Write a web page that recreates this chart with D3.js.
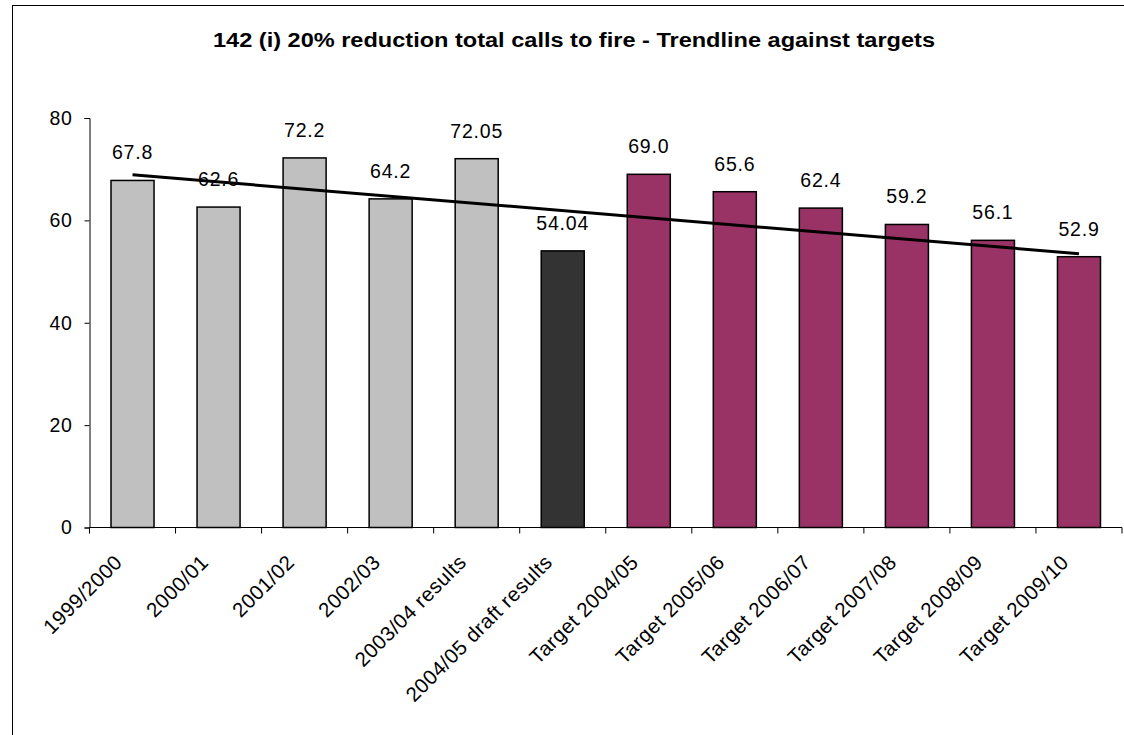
<!DOCTYPE html>
<html>
  <head>
    <meta charset="UTF-8" />
    <style>
      body {
        margin: 0;
        background: #ffffff;
      }
      text {
        font-family: "Liberation Sans", Arial, sans-serif;
        fill: #000000;
      }
      .bar {
        stroke: #000000;
        stroke-width: 1.5px;
      }
      .trend {
        stroke: #000000;
        stroke-width: 3px;
        fill: none;
      }
    </style>
    <script src="https://d3js.org/d3.v7.min.js"></script>
  </head>
  <body>
    <svg width="1124" height="735"></svg>
    <script>
      var categories = [
        "1999/2000",
        "2000/01",
        "2001/02",
        "2002/03",
        "2003/04 results",
        "2004/05 draft results",
        "Target 2004/05",
        "Target 2005/06",
        "Target 2006/07",
        "Target 2007/08",
        "Target 2008/09",
        "Target 2009/10",
      ];
      var values = [67.8, 62.6, 72.2, 64.2, 72.05, 54.04, 69.0, 65.6, 62.4, 59.2, 56.1, 52.9];
      var valueLabels = ["67.8", "62.6", "72.2", "64.2", "72.05", "54.04", "69.0", "65.6", "62.4", "59.2", "56.1", "52.9"];
      var groups = ["actual", "actual", "actual", "actual", "actual", "draft", "target", "target", "target", "target", "target", "target"];
      var groupColors = { actual: "#c0c0c0", draft: "#333333", target: "#993366" };
      var yTicks = [0, 20, 40, 60, 80];
      // trendline end points
      var trendStart = 68.9;
      var trendEnd = 53.5;
      var title = "142 (i) 20% reduction total calls to fire - Trendline against targets";

      var svg = d3.select("svg");

      // outer chart border (runs off the right and bottom of the picture)
      svg
        .append("rect")
        .attr("x", 12.5)
        .attr("y", 5.5)
        .attr("width", 1130)
        .attr("height", 740)
        .attr("fill", "none")
        .attr("stroke", "#000000")
        .attr("stroke-width", 1);

      var plotLeft = 89.5;
      var plotRight = 1122;
      var plotTop = 118;
      var plotBottom = 527.5;

      var x = d3
        .scaleBand()
        .domain(categories)
        .range([plotLeft, plotRight])
        .paddingInner(0.5)
        .paddingOuter(0.25);

      var y = d3.scaleLinear().domain([0, 80]).range([plotBottom, plotTop]);

      svg
        .append("text")
        .attr("x", 574)
        .attr("y", 47)
        .attr("text-anchor", "middle")
        .attr("textLength", 722)
        .attr("lengthAdjust", "spacingAndGlyphs")
        .style("font-size", "20px")
        .style("font-weight", "bold")
        .text(title);

      // y axis
      var yAxis = svg
        .append("g")
        .attr("transform", "translate(" + plotLeft + ",0)")
        .call(d3.axisLeft(y).tickValues(yTicks).tickSize(5).tickPadding(12));
      yAxis.select(".domain").attr("stroke", "#000000");
      yAxis.selectAll(".tick line").attr("stroke", "#000000");
      yAxis
        .selectAll(".tick text")
        .attr("font-family", null)
        .attr("font-size", null)
        .style("font-size", "19.5px")
        .style("letter-spacing", "0.6px");

      // bars
      svg
        .append("g")
        .selectAll("rect")
        .data(values)
        .enter()
        .append("rect")
        .attr("class", "bar")
        .attr("x", (d, i) => x(categories[i]))
        .attr("y", (d) => y(d))
        .attr("width", x.bandwidth())
        .attr("height", (d) => y(0) - y(d))
        .attr("fill", (d, i) => groupColors[groups[i]]);

      // x axis line with ticks at the band boundaries
      var xAxis = svg.append("g");
      xAxis
        .append("line")
        .attr("x1", plotLeft)
        .attr("x2", plotRight)
        .attr("y1", y(0))
        .attr("y2", y(0))
        .attr("stroke", "#000000");
      xAxis
        .selectAll("line.tick")
        .data(d3.range(categories.length + 1))
        .enter()
        .append("line")
        .attr("class", "tick")
        .attr("x1", (i) => plotLeft + i * x.step())
        .attr("x2", (i) => plotLeft + i * x.step())
        .attr("y1", y(0))
        .attr("y2", y(0) + 6)
        .attr("stroke", "#000000");
      xAxis
        .selectAll("text")
        .data(categories)
        .enter()
        .append("text")
        .attr(
          "transform",
          (d) => "translate(" + (x(d) + x.bandwidth() / 2 - 9) + "," + (y(0) + 36) + ") rotate(-45)"
        )
        .attr("text-anchor", "end")
        .style("font-size", "20.5px")
        .style("letter-spacing", "0.5px")
        .text((d) => d);

      // value labels
      svg
        .append("g")
        .selectAll("text")
        .data(values)
        .enter()
        .append("text")
        .attr("x", (d, i) => x(categories[i]) + x.bandwidth() / 2)
        .attr("y", (d) => y(d) - 21)
        .attr("text-anchor", "middle")
        .style("font-size", "19.5px")
        .style("letter-spacing", "0.8px")
        .text((d, i) => valueLabels[i]);

      // trendline
      var first = categories[0];
      var last = categories[categories.length - 1];
      svg
        .append("line")
        .attr("class", "trend")
        .attr("x1", x(first) + x.bandwidth() / 2)
        .attr("y1", y(trendStart))
        .attr("x2", x(last) + x.bandwidth() / 2)
        .attr("y2", y(trendEnd));
    </script>
  </body>
</html>
